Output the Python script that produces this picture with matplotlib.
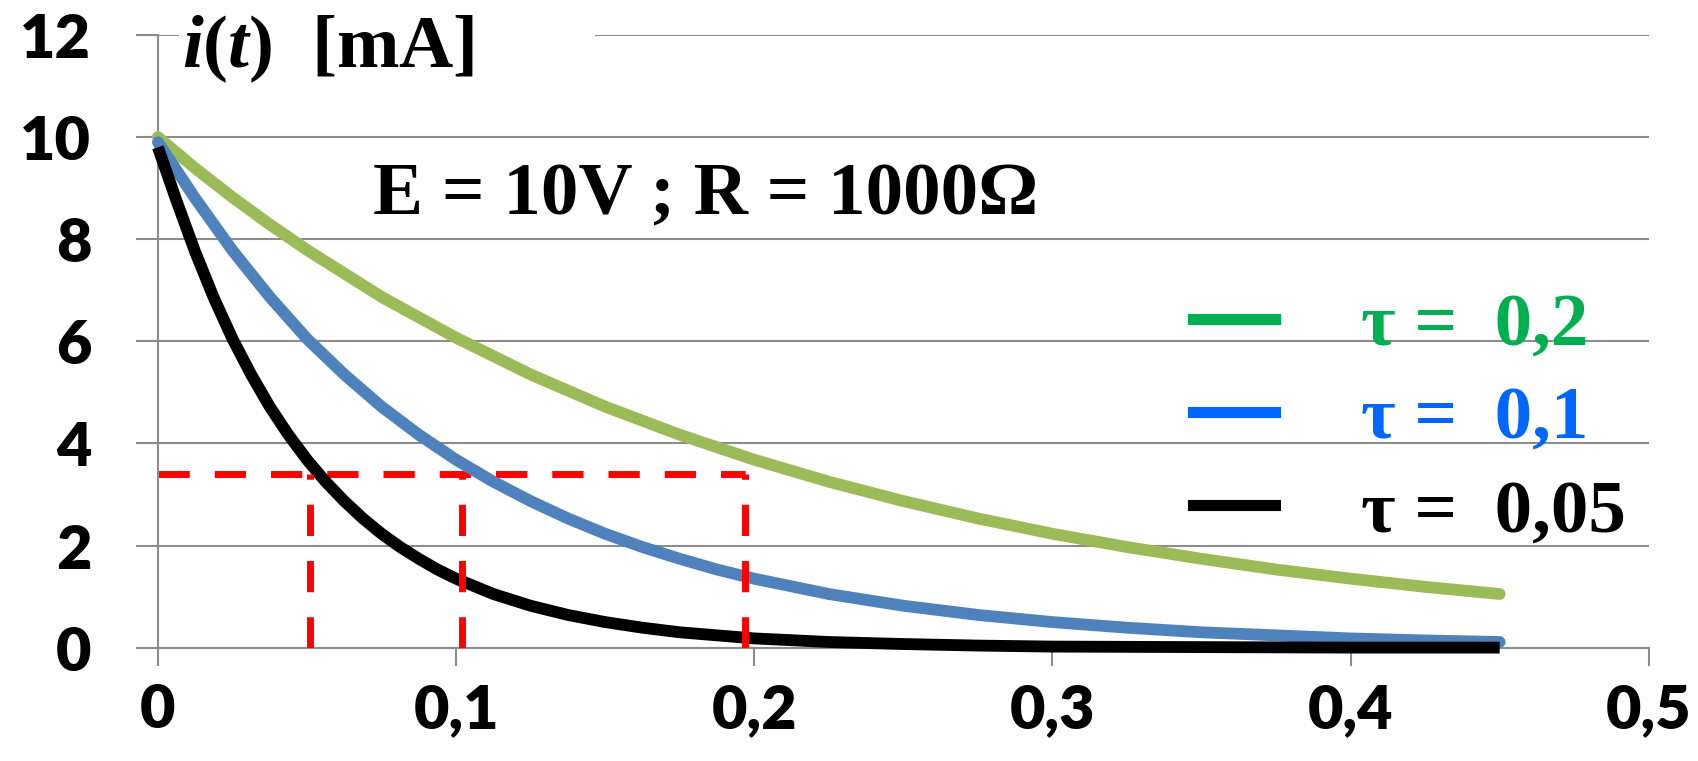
import matplotlib.pyplot as plt
from matplotlib.lines import Line2D

# current curves, i(t) in mA
t_green = [0, 0.0125, 0.025, 0.0375, 0.05, 0.075, 0.1, 0.125, 0.15, 0.175,
           0.2, 0.225, 0.25, 0.275, 0.3, 0.325, 0.35, 0.375, 0.4, 0.425, 0.45]
i_green = [10.0, 9.39, 8.82, 8.29, 7.79, 6.87, 6.07, 5.35, 4.72, 4.17,
           3.68, 3.25, 2.87, 2.53, 2.23, 1.97, 1.74, 1.53, 1.35, 1.19, 1.05]

t_blue = [0, 0.0125, 0.025, 0.0375, 0.05, 0.0625, 0.075, 0.0875, 0.1,
          0.1125, 0.125, 0.1375, 0.15, 0.1625, 0.175, 0.1875, 0.2, 0.225,
          0.25, 0.275, 0.3, 0.325, 0.35, 0.375, 0.4, 0.425, 0.45]
i_blue = [9.9, 8.8, 7.78, 6.87, 6.05, 5.35, 4.72, 4.17, 3.68,
          3.25, 2.87, 2.53, 2.23, 1.97, 1.74, 1.53, 1.35, 1.05,
          0.82, 0.64, 0.50, 0.39, 0.30, 0.24, 0.18, 0.14, 0.11]

t_black = [0, 0.00625, 0.0125, 0.01875, 0.025, 0.03125, 0.0375, 0.04375,
           0.05, 0.05625, 0.0625, 0.06875, 0.075, 0.08125, 0.0875, 0.09375,
           0.1, 0.1125, 0.125, 0.1375, 0.15, 0.1625, 0.175, 0.1875, 0.2,
           0.225, 0.25, 0.275, 0.3, 0.35, 0.4, 0.45]
i_black = [9.8, 8.75, 7.75, 6.85, 6.05, 5.35, 4.72, 4.17,
           3.68, 3.25, 2.87, 2.53, 2.23, 1.97, 1.74, 1.53,
           1.35, 1.05, 0.82, 0.64, 0.50, 0.39, 0.30, 0.24, 0.18,
           0.11, 0.07, 0.04, 0.02, 0.01, 0.0, 0.0]

# red dashed reading lines
level = 3.4
t_marks = [0.051, 0.102, 0.197]

legend_labels = ['τ =  0,2', 'τ =  0,1', 'τ =  0,05']
legend_colors = ['#00B050', '#0066FF', '#000000']

x_ticks = [0, 0.1, 0.2, 0.3, 0.4, 0.5]
x_ticklabels = ['0', '0,1', '0,2', '0,3', '0,4', '0,5']
y_ticks = [0, 2, 4, 6, 8, 10, 12]

plt.rcParams['mathtext.fontset'] = 'custom'
plt.rcParams['mathtext.rm'] = 'Liberation Serif:bold'
plt.rcParams['mathtext.it'] = 'Liberation Serif:bold:italic'

grid_col = '#8c8c8c'

fig = plt.figure(figsize=(16.98, 7.61), dpi=100)
ax = fig.add_axes([0.093, 0.149, 0.878, 0.805])

ax.set_xlim(0, 0.5)
ax.set_ylim(0, 12)

ax.yaxis.grid(True, color=grid_col, lw=1.5, zorder=0)
ax.set_axisbelow(True)
for s in ['top', 'right']:
    ax.spines[s].set_visible(False)
for s in ['left', 'bottom']:
    ax.spines[s].set_color(grid_col)
    ax.spines[s].set_linewidth(1.5)

# horizontal reading line sits under the curves
ax.plot([0, t_marks[-1]], [level, level], color='#FF0000', lw=5,
        dashes=(4.5, 3.6), zorder=2)

ax.plot(t_green, i_green, color='#9BBB59', lw=8.5, solid_capstyle='round',
        solid_joinstyle='round', zorder=3, clip_on=False)
ax.plot(t_blue, i_blue, color='#4F81BD', lw=8.5, solid_capstyle='round',
        solid_joinstyle='round', zorder=4, clip_on=False)
ax.plot(t_black, i_black, color='#000000', lw=8.5, solid_capstyle='butt',
        solid_joinstyle='round', zorder=5, clip_on=False)

for tm in t_marks:
    ax.plot([tm, tm], [0, level], color='#FF0000', lw=5,
            dashes=(4.5, 3.6), zorder=6)

ax.set_xticks(x_ticks)
ax.set_xticklabels(x_ticklabels)
ax.set_yticks(y_ticks)
ax.tick_params(axis='both', direction='out', color=grid_col, width=1.5)
ax.tick_params(axis='y', length=16, pad=32)
ax.tick_params(axis='x', length=13, pad=12)
for lab in ax.get_xticklabels() + ax.get_yticklabels():
    lab.set_fontfamily('Lato')
    lab.set_fontweight('heavy')
    lab.set_fontsize(44)

ax.text(0.008, 11.72, r'$\mathit{i(t)}$  [mA]       ', fontsize=54,
        fontfamily='Liberation Serif', fontweight='bold', va='center',
        ha='left', bbox=dict(facecolor='white', edgecolor='none', pad=2),
        zorder=7)

ax.text(0.072, 8.85, 'E = 10V ; R = 1000Ω', fontsize=54,
        fontfamily='Liberation Serif', fontweight='bold', va='center',
        ha='left')

handles = [Line2D([], [], color=c, lw=8) for c in legend_colors]
leg = ax.legend(handles, legend_labels, loc='upper left',
                bbox_to_anchor=(0.694, 0.58), frameon=False,
                prop={'family': 'Liberation Serif', 'weight': 'bold',
                      'size': 54},
                handlelength=1.1, handletextpad=1.15, labelspacing=0.33,
                borderpad=0, borderaxespad=0, labelcolor=legend_colors)

fig.savefig('out.png', dpi=100)
